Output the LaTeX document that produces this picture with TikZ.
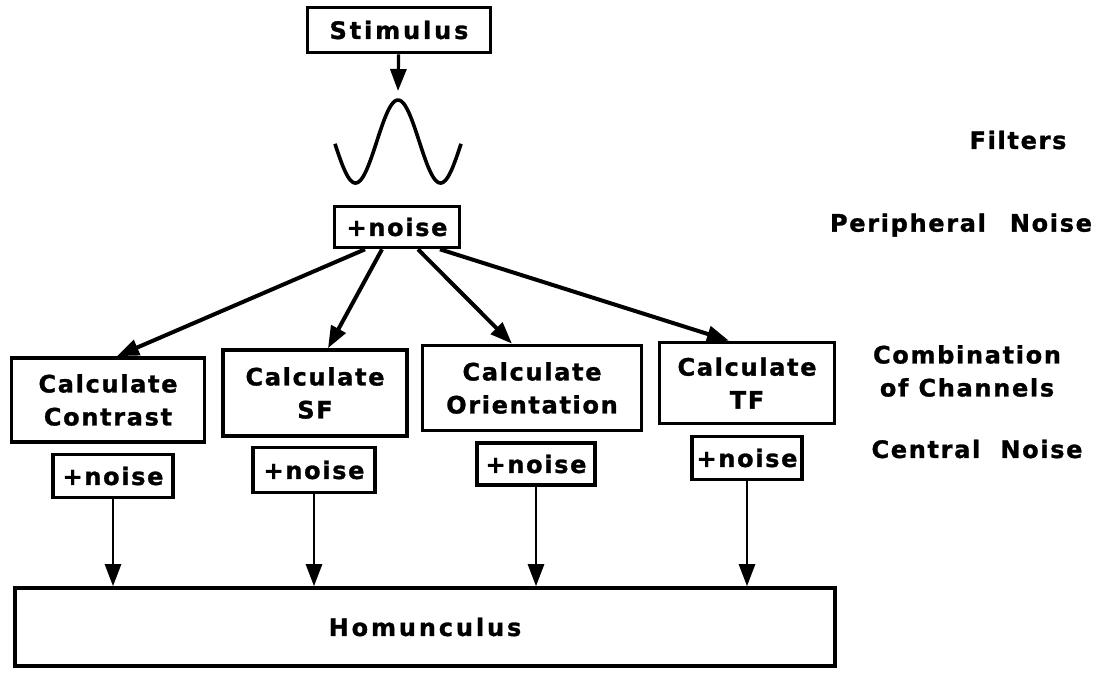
\documentclass[tikz,border=0pt]{standalone}
\usepackage{fontspec}
\newfontfamily\diagfont{DejaVu Sans}[LetterSpace=7,FakeBold=1.2]
\usetikzlibrary{arrows.meta,calc}

\begin{document}
\begin{tikzpicture}[x=0.5pt,y=-0.5pt,
        every node/.style={font=\diagfont\bfseries\fontsize{12}{16.5}\selectfont},
        blk/.style={draw, line width=1.8pt, align=center, inner sep=0pt},
        lbl/.style={align=center, inner sep=0pt},
        tip/.style={-{Triangle[length=11pt,width=8pt]}}]

        \useasboundingbox (0,0) rectangle (1097,677);

        \node [blk, minimum width=91.5pt, minimum height=22.5pt] (stim) at (399,30)
            {\addfontfeatures{LetterSpace=12}Stimulus};
        \coordinate (filt) at (398,91);
        \draw [line width=1.8pt, domain=335:461, samples=90, smooth]
            plot (\x, {141.5-41.5*cos(4.2353*(\x-398))});
        \node [blk, minimum width=62.5pt, minimum height=20.5pt] (pn) at (397,227) {+noise};

        \node [blk, minimum width=96.5pt, minimum height=42pt] (ccon) at (108,400) {Calculate\\Contrast};
        \node [blk, minimum width=92pt, minimum height=43pt] (csf) at (315,393) {Calculate\\SF};
        \node [blk, minimum width=109.5pt, minimum height=42.5pt] (cori) at (532,388) {Calculate\\Orientation};
        \node [blk, minimum width=87.5pt, minimum height=40.5pt] (ctf) at (747,383) {Calculate\\TF};

        \node [blk, minimum width=60pt, minimum height=21.5pt] (n1) at (113,476) {+noise};
        \node [blk, minimum width=61pt, minimum height=22.5pt] (n2) at (314,470) {+noise};
        \node [blk, minimum width=59pt, minimum height=21pt] (n3) at (536,464) {+noise};
        \node [blk, minimum width=55pt, minimum height=21.5pt] (n4) at (747,458) {+noise};

        \node [blk, minimum width=410pt, minimum height=39pt] (hom) at (425,627)
            {\addfontfeatures{LetterSpace=12}Homunculus};

        \node [lbl] (filters) at (1018,140) {Filters};
        \node [lbl] (periph) at (961,225) {Peripheral\quad Noise};
        \node [lbl] (comb) at (967,371) {Combination\\of Channels};
        \node [lbl] (central) at (977,449) {Central~~Noise};

        \draw [tip, line width=1.6pt] (stim) -- (filt);
        \draw [tip, line width=2pt] ($(pn.south)+(-32,0)$) -- ($(ccon.north)+(9,0)$);
        \draw [tip, line width=2pt] ($(pn.south)+(-15,0)$) -- ($(csf.north)+(13,0)$);
        \draw [tip, line width=2pt] ($(pn.south)+(21,0)$) -- ($(cori.north)+(-20,0)$);
        \draw [tip, line width=2pt] ($(pn.south)+(43,0)$) -- ($(ctf.north)+(-18,0)$);

        \draw [tip, line width=1.3pt] (n1) -- (n1 |- hom.north);
        \draw [tip, line width=1.3pt] (n2) -- (n2 |- hom.north);
        \draw [tip, line width=1.3pt] (n3) -- (n3 |- hom.north);
        \draw [tip, line width=1.3pt] (n4) -- (n4 |- hom.north);

\end{tikzpicture}
\end{document}
